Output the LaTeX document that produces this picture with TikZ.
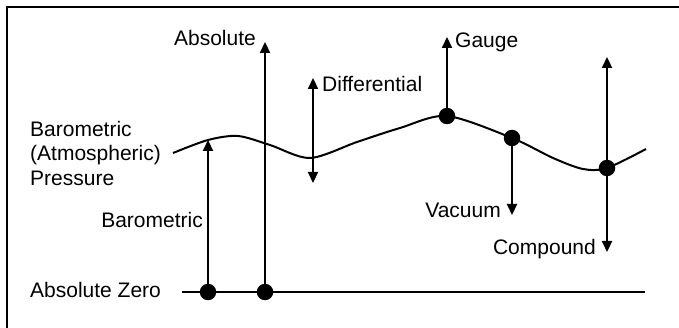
\documentclass[tikz,border=0pt]{standalone}
\usepackage{fontspec}
\setmainfont{Liberation Sans}
\usepackage{tikz}
\usetikzlibrary{arrows.meta}

\begin{document}
\begin{tikzpicture}[x=1pt, y=-1pt,
  every node/.style={font=\fontsize{21}{24.5}\selectfont, inner sep=0pt},
  dot/.style={circle, fill=black, minimum size=16.5pt},
  arr/.style={-{Triangle[width=10pt,length=11pt]}, line width=2.2pt},
  dbl/.style={{Triangle[width=10pt,length=11pt]}-{Triangle[width=10pt,length=11pt]}, line width=2.2pt}]
  \useasboundingbox (0,0) rectangle (679,328);
  \draw[line width=2.2pt] (7,329) -- (7,7) -- (680,7);
  % pressure curve and zero line
  \draw[line width=2pt, smooth] plot coordinates {(173,153) (208,140) (238,136) (270,145) (310,158) (357,142) (400,128) (447,116) (512,138) (553,158) (583,169) (607,168) (646,149)};
  \coordinate (zl) at (182,292);
  \coordinate (zr) at (645,292);
  \draw[line width=1.8pt] (zl) -- (zr);
  % dots
  \node[dot] (baro) at (208,292) {};
  \node[dot] (abs) at (265,292) {};
  \node[dot] (gauge) at (447,116) {};
  \node[dot] (vac) at (512,138) {};
  \node[dot] (comp) at (607,168) {};
  % arrow ends
  \coordinate (barotop) at (208,140);
  \coordinate (abstop) at (265,42);
  \coordinate (difftop) at (313,78);
  \coordinate (diffbot) at (313,183);
  \coordinate (gaugetop) at (447,37);
  \coordinate (vacbot) at (512,215);
  \coordinate (comptop) at (607,57);
  \coordinate (compbot) at (607,252);
  \draw[arr] (baro.center) -- (barotop);
  \draw[arr] (abs.center) -- (abstop);
  \draw[dbl] (diffbot) -- (difftop);
  \draw[arr] (gauge.center) -- (gaugetop);
  \draw[arr] (vac.center) -- (vacbot);
  \draw[dbl] (compbot) -- (comptop);
  % labels
  \node[anchor=base east] (abslbl) at (256,46) {Absolute};
  \node[anchor=base west] (difflbl) at (322,92) {Differential};
  \node[anchor=base west] (gaugelbl) at (455,48) {Gauge};
  \node[anchor=west, align=left] (atmlbl) at (30,153) {Barometric\\(Atmospheric)\\Pressure};
  \node[anchor=base east] (barolbl) at (203,228) {Barometric};
  \node[anchor=base west] (zerolbl) at (30,298) {Absolute Zero};
  \node[anchor=base east] (vaclbl) at (501,218) {Vacuum};
  \node[anchor=base east] (complbl) at (596,255) {Compound};
\end{tikzpicture}
\end{document}
